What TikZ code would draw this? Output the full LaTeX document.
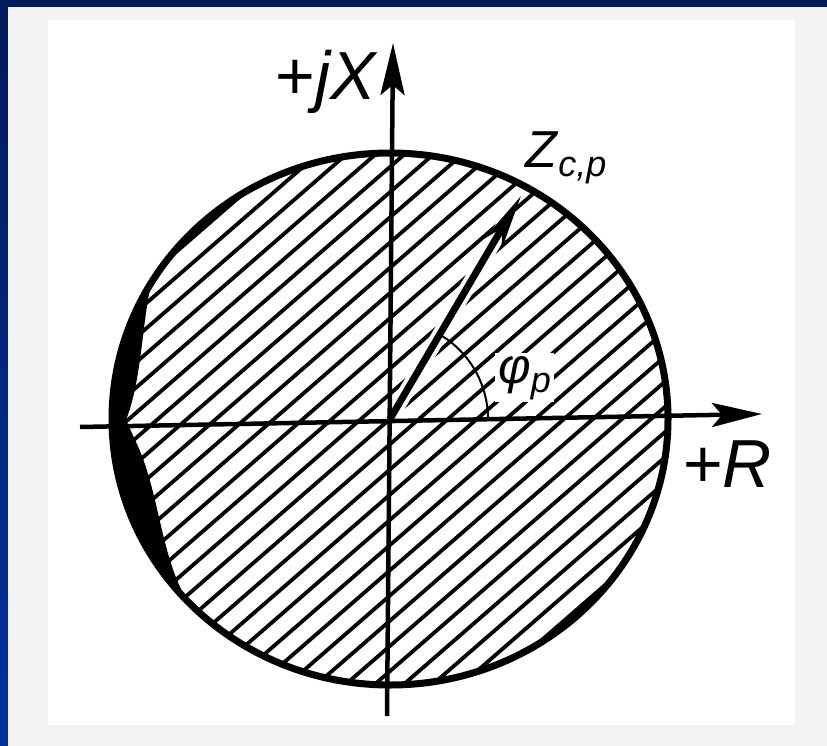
\documentclass[tikz,border=0pt]{standalone}
\usepackage{fontspec}
\setmainfont{Liberation Sans}
\usetikzlibrary{arrows.meta,calc}
\definecolor{framenavy}{RGB}{0,28,92}
\definecolor{frameblue}{RGB}{0,51,160}
\definecolor{paperedge}{RGB}{243,243,243}

\begin{document}
\begin{tikzpicture}[x=1pt,y=-1pt,
    axis/.style={line width=4.5pt},
    hatch/.style={line width=3.8pt},
    rim/.style={line width=7pt},
    biglabel/.style={font=\fontsize{68}{70}\selectfont, inner sep=0pt},
    vec/.style={line width=7pt, -{Stealth[length=55pt,width=20pt]}}
  ]
  \useasboundingbox (0,0) rectangle (827,746);
  \fill[paperedge] (0,0) rectangle (827,746);
  \fill[white] (48,20) rectangle (795,725);
  \fill[framenavy] (0,0) rectangle (827,7);
  \foreach \k [evaluate=\k as \pc using int(\k*5)] in {0,...,19}
    \fill[frameblue!\pc!framenavy] (0,\k*37.3) rectangle (8,\k*37.3+38);

  \coordinate (O) at (390,419);
  \coordinate (Ztip) at (521,196);
  \coordinate (Rtail) at (80,427);
  \coordinate (Rtip) at (762,414);
  \coordinate (Xtail) at (387,716);
  \coordinate (Xtip) at (393,43);

  \begin{scope}
    \clip (O) ellipse [x radius=278, y radius=266];
    \foreach \i in {-22,...,22}
      \draw[hatch] ([xshift=\i*29pt]O) ++(139:420) -- ++(-41:840);
    \fill (0,280) -- (152,280) .. controls (142,320) and (142,380) .. (126,420)
      -- (135,440) .. controls (160,490) and (160,560) .. (190,605) -- (0,605) -- cycle;
  \end{scope}
  \draw[white, line width=15pt, shorten >=25pt] (O) -- (Ztip);
  \draw[rim] (O) ellipse [x radius=278, y radius=266];

  \draw[axis, -{Stealth[length=50pt,width=24pt,inset=10pt]}] (Rtail) -- (Rtip);
  \draw[axis, -{Stealth[length=52pt,width=24pt,inset=10pt]}] (Xtail) -- (Xtip);
  \draw[vec] (O) -- (Ztip);

  \node[fill=white, inner sep=3pt, anchor=base west] (phi) at (495,383)
    {\fontsize{50}{50}\selectfont\textit{φ}\raisebox{-9pt}{\fontsize{36}{36}\selectfont\textit{p}}};
  \draw[line width=2pt] ($(O)+(98,0)$) arc[start angle=0, end angle=-60, radius=98];

  \node[biglabel, anchor=base east] (jX) at (378,100) {+\textit{jX}};
  \node[biglabel, anchor=base west] (R) at (683,487) {+\textit{R}};
  \node[anchor=base west, inner sep=0pt, font=\fontsize{52}{54}\selectfont] (Z) at (525,168)
    {\textit{Z}\raisebox{-9pt}{\fontsize{36}{36}\selectfont\textit{c,p}}};
\end{tikzpicture}
\end{document}
